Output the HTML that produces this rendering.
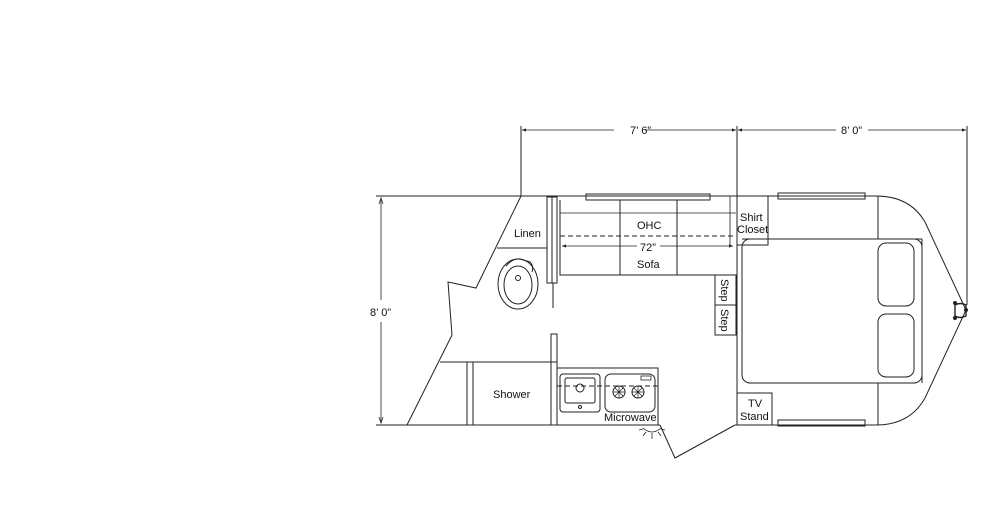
<!DOCTYPE html>
<html><head><meta charset="utf-8"><style>
html,body{margin:0;padding:0;background:#fff;width:1000px;height:530px;overflow:hidden}
svg{display:block}
text{font-family:"Liberation Sans",sans-serif;font-size:11px;fill:#111}
</style></head><body>
<svg width="1000" height="530" viewBox="0 0 1000 530" xmlns="http://www.w3.org/2000/svg">
<defs>
<marker id="a" markerWidth="6" markerHeight="6" refX="5" refY="3" orient="auto"><path d="M0,1 L5,3 L0,5" fill="#222" stroke="none"/></marker>
<marker id="s" markerWidth="6" markerHeight="6" refX="0" refY="3" orient="auto"><path d="M5,1 L0,3 L5,5" fill="#222" stroke="none"/></marker>
</defs>
<g fill="none" stroke="#222" stroke-width="1">
<!-- top dimension -->
<line x1="521" y1="126" x2="521" y2="196"/>
<line x1="737" y1="126" x2="737" y2="425"/>
<line x1="967" y1="126" x2="967" y2="305"/>
<line x1="522" y1="130" x2="614" y2="130" stroke-width="0.8" marker-start="url(#s)"/>
<line x1="645" y1="130" x2="736" y2="130" stroke-width="0.8" marker-end="url(#a)"/>
<line x1="738" y1="130" x2="836" y2="130" stroke-width="0.8" marker-start="url(#s)"/>
<line x1="868" y1="130" x2="966" y2="130" stroke-width="0.8" marker-end="url(#a)"/>
<!-- left dimension -->
<line x1="381" y1="199" x2="381" y2="300" stroke-width="0.8"/>
<line x1="381" y1="322" x2="381" y2="422" stroke-width="0.8"/>
<path d="M379,204 L381,198 L383,204" stroke-width="0.8"/>
<path d="M379,417 L381,423 L383,417" stroke-width="0.8"/>
<!-- outer walls -->
<line x1="376" y1="196" x2="876" y2="196"/>
<path d="M876,196 Q910,196 925,222 L966,310 L925,398 Q910,425 876,425"/>
<line x1="376" y1="425" x2="660" y2="425"/>
<line x1="735" y1="425" x2="876" y2="425"/>
<path d="M660,425 L675,458 L735,425"/>
<path d="M521,196 L476,288 L448,282 L452,335 L407,425"/>
<!-- linen -->
<line x1="497" y1="248" x2="547" y2="248"/>
<rect x="547" y="197" width="10" height="86"/>
<line x1="552" y1="197" x2="552" y2="283"/>
<line x1="553" y1="283" x2="553" y2="308"/>
<!-- toilet -->
<ellipse cx="518" cy="284" rx="20" ry="25"/>
<ellipse cx="518" cy="285" rx="14" ry="19"/>
<circle cx="518" cy="278" r="2.5"/>
<path d="M506,266 Q513,258 520,259 L530,262 Q534,266 532,272"/>
<!-- shower -->
<line x1="440" y1="362" x2="557" y2="362"/>
<rect x="467" y="362" width="6" height="63"/>
<rect x="551" y="334" width="6" height="91"/>
<!-- kitchen -->
<path d="M557,368 L658,368 L658,425"/>
<rect x="560" y="374" width="40" height="38" rx="3"/>
<rect x="565" y="378" width="30" height="25" rx="2"/>
<circle cx="580" cy="388" r="4"/>
<circle cx="580" cy="407" r="1.5"/>
<rect x="605" y="374" width="50" height="38" rx="6"/>
<line x1="557" y1="386" x2="658" y2="386" stroke-dasharray="5,3" stroke-width="0.9"/>
<circle cx="619" cy="392" r="6"/><circle cx="638" cy="392" r="6"/>
<path d="M613,392h12M619,386v12M615,388l8,8M623,388l-8,8M632,392h12M638,386v12M634,388l8,8M642,388l-8,8" stroke-width="0.7"/>
<rect x="641" y="376" width="10" height="4" stroke-width="0.8"/>
<path d="M643,428 Q652,436 661,428 M652,433v6 M646,432l-3,4 M658,432l3,4 M643,429l-4,1 M661,429l4,1" stroke-width="0.8"/>
<!-- sofa -->
<rect x="586" y="194" width="124" height="6"/>
<path d="M560,200 L560,275 L736,275 M620,200 L620,275 M677,200 L677,275"/>
<path d="M560,213 L736,213" stroke-width="0.8"/>
<line x1="560" y1="236" x2="736" y2="236" stroke-dasharray="5,3"/>
<line x1="562" y1="246" x2="637" y2="246" stroke-width="0.8" marker-start="url(#s)"/>
<line x1="660" y1="246" x2="733" y2="246" stroke-width="0.8" marker-end="url(#a)"/>
<!-- shirt closet -->
<rect x="737" y="196" width="31" height="49"/>
<line x1="730" y1="196" x2="730" y2="245" stroke-width="0.8"/>
<!-- steps -->
<rect x="715" y="275" width="21" height="30"/>
<rect x="715" y="305" width="21" height="30"/>
<!-- bed -->
<line x1="742" y1="239" x2="922" y2="239"/>
<rect x="742" y="239" width="180" height="144" rx="8"/>
<rect x="878" y="243" width="36" height="63" rx="8"/>
<rect x="878" y="314" width="36" height="63" rx="8"/>
<path d="M878,196 L878,239 M878,383 L878,425 M922,239 L922,383"/>
<!-- tv stand -->
<rect x="737" y="393" width="35" height="32"/>
<!-- windows -->
<rect x="778" y="193" width="87" height="6"/>
<rect x="778" y="420" width="87" height="6"/>
<!-- hitch -->
<path d="M955,305 Q960,302 966,305 L966,316 Q960,319 955,316 Z" stroke-width="1.4"/>
<circle cx="955" cy="303" r="1.5" fill="#222"/><circle cx="955" cy="318" r="1.5" fill="#222"/><circle cx="966" cy="310" r="1.5" fill="#222"/>
</g>
<text x="630" y="134">7’ 6”</text>
<text x="841" y="134">8’ 0”</text>
<text x="370" y="316">8’ 0”</text>
<text x="514" y="237">Linen</text>
<text x="637" y="229">OHC</text>
<text x="640" y="251">72”</text>
<text x="637" y="268">Sofa</text>
<text x="740" y="221">Shirt</text>
<text x="737" y="233">Closet</text>
<text x="493" y="398">Shower</text>
<text x="604" y="421">Microwave</text>
<text x="748" y="407">TV</text>
<text x="740" y="420">Stand</text>
<text transform="translate(721,279) rotate(90)">Step</text>
<text transform="translate(721,309) rotate(90)">Step</text>
</svg>
</body></html>
